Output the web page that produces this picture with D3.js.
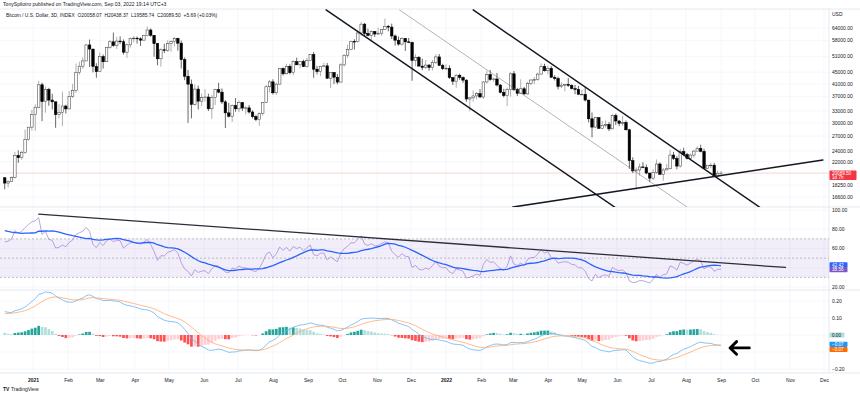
<!DOCTYPE html>
<html>
<head>
<meta charset="utf-8">
<script src="https://cdn.jsdelivr.net/npm/d3@7"></script>
<style>
  body { margin: 0; background: #fff; }
  svg { display: block; font-family: "Liberation Sans", Arial, sans-serif; }
</style>
</head>
<body>
<svg id="chart" width="860" height="395"></svg>
<script>
// BTCUSD 3D candles, Dec 7 2020 -> Sep 1 2022
var firstCandle = "2020-12-07";

// closes before the first visible candle, only used to seed RSI / MACD
var warmupCloses = [9540, 11020, 11110, 11070, 11750, 11710, 11390, 11770, 12290, 11880,
  11660, 11470, 11540, 11920, 10510, 10250, 10340, 10330, 10950, 11080,
  10530, 10750, 10700, 10620, 10680, 10670, 11300, 11430, 11320, 11750,
  12990, 13030, 13270, 13800, 14000, 15590, 15330, 16290, 15960, 17800,
  18680, 19150, 17150, 19700, 19210, 19360];

var closes = [
  18550,18800,19430,23140,22720,23730,26270,28990,32130,33990,
  40670,35570,39190,35990,35500,32070,32570,34320,33540,37000,
  38900,44880,47170,49200,55900,54090,47100,45140,50960,48880,
  54880,57330,55650,57650,57350,52770,55950,58800,59000,58700,
  58090,60200,62980,60370,56470,50050,53800,53560,56620,57480,
  58880,56700,49700,43540,40870,34770,39290,35680,36680,36880,
  33570,36690,39100,38350,35480,32500,31640,34430,33570,35300,
  33770,33820,32720,31530,30820,32290,35350,40030,41630,38150,
  40870,46360,44400,47100,44800,48900,47700,49000,46990,49300,
  51750,46060,45160,47110,47300,42850,44900,43200,41560,47670,
  51500,53950,57470,57400,61500,65990,61300,60350,62250,61000,
  61400,63300,64900,64470,60060,58050,56300,58900,57300,57000,
  49400,50600,47200,46700,47600,46700,48600,50800,47500,46300,
  46400,43100,41850,43900,43100,42200,36300,36650,37200,37900,
  36900,41600,44100,42400,42600,40600,38300,37300,39100,44400,
  39150,38000,39400,37800,41100,42250,42380,44300,47100,45500,
  46400,43200,42750,40100,40550,40800,40500,39450,39200,37700,
  37700,36000,31000,29000,31300,28700,29400,29650,28600,31800,
  30450,29900,30100,28400,22200,20450,20600,21100,21000,20100,
  19300,20200,21600,19900,20600,20800,23200,22600,21250,23850,
  23300,22600,23200,23950,24450,23900,20850,21400,21400,19550,
  20050,20089.5];

var highs = [
  19420,18950,19570,23770,24100,24000,28420,29000,33300,34800,
  41950,41350,40100,39700,37850,35500,34870,38500,34700,38700,
  40950,48200,48900,50600,56400,58350,54200,48300,52600,51800,
  54900,58100,61700,59600,59900,58400,56600,59300,60000,59800,
  59400,60500,64850,63800,57600,56800,54400,56400,58000,58000,
  59500,59200,57900,50600,45800,42400,40800,40400,37900,39300,
  37900,37500,39400,41300,39500,36000,35200,34750,36600,35900,
  35000,34300,34600,33200,32000,32600,35400,40600,42300,42500,
  41300,46500,46700,48100,47900,49400,50500,49300,49700,50400,
  51900,52900,47300,47300,48500,48400,45000,45000,44300,48300,
  51900,56000,57800,58500,62900,67000,66600,63700,62900,62400,
  64200,63300,69000,65600,66300,60800,59800,59400,59000,59100,
  57400,51900,51200,50100,49500,48000,49600,51900,52000,48100,
  47900,47500,43100,44300,44400,43500,42500,36800,38900,38400,
  39300,41900,45500,45800,43000,44700,40900,39400,39800,44900,
  45400,39700,42500,40000,41700,42400,43300,44800,48200,48100,
  47400,47200,43900,43400,41500,40800,42900,40800,40600,40300,
  39100,40000,36000,32600,31400,31300,30500,30600,30200,32200,
  32300,30700,31700,30600,28600,22800,21000,21700,21900,21500,
  20100,20700,22400,21900,20900,21600,24200,23800,23000,24400,
  24600,23600,23500,24200,24900,25200,24400,21400,21800,21800,
  20500,20438.37];

var lows = [
  17650,17910,18800,19280,21810,22350,23480,26000,28200,28130,
  33700,30420,32530,34400,33400,28850,31100,29240,32300,33450,
  36600,38100,44100,46200,49300,46900,44900,43000,45100,46300,
  48900,54300,55100,54100,56300,51800,50400,54700,57100,56500,
  55500,57900,59900,59700,50900,47500,47000,52400,53000,52900,
  55300,53400,46300,42200,30000,31100,34400,33400,34300,35600,
  33000,31000,34600,38000,34900,28800,31300,30200,32800,32700,
  33000,32100,32300,31100,30400,29300,31800,35200,38300,37600,
  37500,40800,43800,44200,44200,43900,47600,46400,46900,46700,
  49400,43000,44200,43600,46800,42600,39600,40900,40800,41500,
  47100,50400,53700,53900,57000,60200,59700,59900,58100,59600,
  60600,60100,63100,62300,58600,55600,55600,55600,53300,56700,
  42000,47200,47200,45700,46100,45500,45600,48000,47300,45700,
  45700,42600,40600,39700,42300,41300,35500,32900,35500,36200,
  36600,36300,41100,42000,41600,40100,38000,36800,34300,37000,
  38700,37200,38100,37600,37600,40500,40900,42000,44100,45200,
  44200,43000,42100,39200,39600,38600,40000,39200,37700,37600,
  37400,35600,30100,26700,28800,28700,28800,28900,28100,28500,
  29500,29200,29300,28200,20800,20100,17600,19700,20900,19900,
  18700,19000,20000,19900,18900,20600,20700,22300,20700,21000,
  23000,22400,22500,22700,23900,23700,20800,20800,20900,19550,
  19600,19585.74];

var priceTicks = [64000, 58000, 51000, 45000, 41000, 37000, 33000, 30000, 27000, 24000, 22000, 18250, 16600];
var rsiTicks = [100, 80, 60, 20];
var rsiGrid = [100, 80, 60, 40, 20];
var rsiBand = [70, 50, 30];
var macdTicks = [0.2, 0.1, -0.2];
var macdGrid = [0.2, 0.1, 0, -0.1, -0.2];

// last values printed on the right scale
var lastPrice = 20089.5, lastPriceText = "20089.50", countdownText = "1d 7h";
var rsiMaLast = 42.42, rsiLast = 38.56;
var histLast = 0.00, macdLast = -0.07, signalLast = -0.07;

// hand drawn lines: [date, value]
var channelLower = [["2021-09-17", 73900], ["2022-05-30", 15320]];
var channelMid = [["2021-11-21", 73900], ["2022-08-02", 15320]];
var channelUpper = [["2022-01-25", 73900], ["2022-10-05", 15320]];
var supportLine = [["2022-03-01", 15320], ["2022-11-30", 22300]];
var rsiTrend = [["2021-01-06", 95.8], ["2022-10-28", 40.3]];
var arrowLine = [["2022-09-26", -0.076], ["2022-09-09", -0.076]];

var headerText = "TonySpilotro published on TradingView.com, Sep 03, 2022 19:14 UTC+3";
var legendText = "Bitcoin / U.S. Dollar, 3D, INDEX  O20058.07  H20438.37  L19585.74  C20089.50  +5.69 (+0.03%)";

// ---- layout
var W = 860, H = 395;
var plotR = 829, top0 = 9, priceB = 207, rsiB = 290, macdB = 373;
var parse = d3.utcParse("%Y-%m-%d");
var svg = d3.select("#chart");

var x = d3.scaleUtc().domain([parse("2021-01-01"), parse("2022-12-01")]).range([33, 824]);
var yP = d3.scaleLog().domain([64000, 16600]).range([28, 197]);
var yR = d3.scaleLinear().domain([100, 20]).range([210, 287]);
var yM = d3.scaleLinear().domain([0.2, -0.2]).range([301, 369]);

// ---- candles
var prevClose = warmupCloses[warmupCloses.length - 1];
var candles = closes.map(function(c, i) {
  var o = i === 0 ? prevClose : closes[i - 1];
  return {
    date: d3.utcDay.offset(parse(firstCandle), 3 * i),
    o: o, c: c,
    h: Math.max(highs[i], o, c),
    l: Math.min(lows[i], o, c)
  };
});

// ---- indicators
var all = warmupCloses.concat(closes);
function ema(v, n) {
  var k = 2 / (n + 1), out = [], p;
  v.forEach(function(d, i) { p = i === 0 ? d : d * k + p * (1 - k); out.push(p); });
  return out;
}
function rsiCalc(v, n) {
  var out = [null], ag = 0, al = 0;
  for (var i = 1; i < v.length; i++) {
    var ch = v[i] - v[i - 1], g = Math.max(ch, 0), l = Math.max(-ch, 0);
    if (i <= n) { ag += g / n; al += l / n; }
    else { ag = (ag * (n - 1) + g) / n; al = (al * (n - 1) + l) / n; }
    out.push(i < n ? null : (al === 0 ? 100 : 100 - 100 / (1 + ag / al)));
  }
  return out;
}
var rsiAll = rsiCalc(all, 14);
var rsiMaAll = rsiAll.map(function(d, i) {
  if (i < 27) return null;
  return d3.mean(rsiAll.slice(i - 13, i + 1));
});
var logs = all.map(Math.log);
var e12 = ema(logs, 12), e26 = ema(logs, 26);
var macdAll = e12.map(function(d, i) { return d - e26[i]; });
var sigAll = ema(macdAll, 9);
var off = warmupCloses.length;
candles.forEach(function(d, i) {
  var j = i + off;
  d.rsi = rsiAll[j];
  d.rsiMa = rsiMaAll[j];
  d.macd = macdAll[j];
  d.sig = sigAll[j];
  d.hist = macdAll[j] - sigAll[j];
  d.prevHist = macdAll[j - 1] - sigAll[j - 1];
});

// ---- clips
var defs = svg.append("defs");
[["cp", top0, priceB], ["cr", priceB, rsiB], ["cm", rsiB, macdB]].forEach(function(c) {
  defs.append("clipPath").attr("id", c[0]).append("rect")
    .attr("x", 0).attr("y", c[1]).attr("width", plotR).attr("height", c[2] - c[1]);
});

// ---- grid
var grid = svg.append("g").attr("stroke", "#F0F3FA").attr("stroke-width", 0.7);
var months = d3.utcMonth.range(parse("2021-01-01"), parse("2022-12-02"));
grid.selectAll(".v").data(months).enter().append("line")
  .attr("x1", function(d) { return x(d); }).attr("x2", function(d) { return x(d); })
  .attr("y1", top0).attr("y2", macdB);
grid.selectAll(".hp").data(priceTicks).enter().append("line")
  .attr("x1", 0).attr("x2", plotR).attr("y1", function(d) { return yP(d); }).attr("y2", function(d) { return yP(d); });
grid.selectAll(".hr").data(rsiGrid).enter().append("line")
  .attr("x1", 0).attr("x2", plotR).attr("y1", function(d) { return yR(d); }).attr("y2", function(d) { return yR(d); });
grid.selectAll(".hm").data(macdGrid).enter().append("line")
  .attr("x1", 0).attr("x2", plotR).attr("y1", function(d) { return yM(d); }).attr("y2", function(d) { return yM(d); });

// pane separators
var sep = svg.append("g").attr("stroke", "#E0E3EB").attr("stroke-width", 0.8);
[top0, priceB, rsiB, macdB].forEach(function(y) {
  sep.append("line").attr("x1", 0).attr("x2", W).attr("y1", y).attr("y2", y);
});
sep.append("line").attr("x1", plotR).attr("x2", plotR).attr("y1", top0).attr("y2", macdB);

// ---- price pane
var pg = svg.append("g").attr("clip-path", "url(#cp)");
pg.append("line").attr("x1", 0).attr("x2", plotR)
  .attr("y1", yP(lastPrice)).attr("y2", yP(lastPrice))
  .attr("stroke", "#F7C4C9").attr("stroke-width", 0.7);

var bw = 2.5;
var cg = pg.selectAll(".candle").data(candles).enter().append("g");
cg.append("line")
  .attr("x1", function(d) { return x(d.date); }).attr("x2", function(d) { return x(d.date); })
  .attr("y1", function(d) { return yP(d.h); }).attr("y2", function(d) { return yP(d.l); })
  .attr("stroke", function(d) { return d.c >= d.o ? "#7a7a7a" : "#000"; })
  .attr("stroke-width", 0.6);
cg.append("rect")
  .attr("x", function(d) { return x(d.date) - bw / 2; })
  .attr("width", bw)
  .attr("y", function(d) { return yP(Math.max(d.o, d.c)); })
  .attr("height", function(d) { return Math.max(0.6, Math.abs(yP(d.o) - yP(d.c))); })
  .attr("fill", function(d) { return d.c >= d.o ? "#fff" : "#000"; })
  .attr("stroke", function(d) { return d.c >= d.o ? "#444" : "#000"; })
  .attr("stroke-width", 0.55);

function seg(g, pts, ys, w, col) {
  g.append("line")
    .attr("x1", x(parse(pts[0][0]))).attr("y1", ys(pts[0][1]))
    .attr("x2", x(parse(pts[1][0]))).attr("y2", ys(pts[1][1]))
    .attr("stroke", col).attr("stroke-width", w).attr("stroke-linecap", "round");
}
seg(pg, channelLower, yP, 1.5, "#131722");
seg(pg, channelMid, yP, 0.5, "#6b6b6b");
seg(pg, channelUpper, yP, 1.5, "#131722");
seg(pg, supportLine, yP, 1.5, "#131722");

// ---- RSI pane
var rg = svg.append("g").attr("clip-path", "url(#cr)");
rg.append("rect").attr("x", 0).attr("width", plotR)
  .attr("y", yR(70)).attr("height", yR(30) - yR(70))
  .attr("fill", "#7E57C2").attr("fill-opacity", 0.1);
rg.selectAll(".band").data(rsiBand).enter().append("line")
  .attr("x1", 0).attr("x2", plotR)
  .attr("y1", function(d) { return yR(d); }).attr("y2", function(d) { return yR(d); })
  .attr("stroke", "#9598A1").attr("stroke-width", 0.6).attr("stroke-dasharray", "2,2");
rg.append("path").datum(candles)
  .attr("d", d3.line().x(function(d) { return x(d.date); }).y(function(d) { return yR(d.rsi); }))
  .attr("fill", "none").attr("stroke", "#9C7FD4").attr("stroke-width", 0.7);
rg.append("path").datum(candles)
  .attr("d", d3.line().x(function(d) { return x(d.date); }).y(function(d) { return yR(d.rsiMa); }))
  .attr("fill", "none").attr("stroke", "#2962FF").attr("stroke-width", 1.3);
seg(rg, rsiTrend, yR, 1.3, "#2a2e39");

// ---- MACD pane
var mg = svg.append("g").attr("clip-path", "url(#cm)");
function histColor(d) {
  if (d.hist >= 0) return d.prevHist < d.hist ? "#26A69A" : "#B2DFDB";
  return d.prevHist < d.hist ? "#FFCDD2" : "#FF5252";
}
mg.selectAll(".hb").data(candles).enter().append("rect")
  .attr("x", function(d) { return x(d.date) - 1.35; })
  .attr("width", 2.7)
  .attr("y", function(d) { return Math.min(yM(0), yM(d.hist)); })
  .attr("height", function(d) { return Math.abs(yM(d.hist) - yM(0)); })
  .attr("fill", histColor);
mg.append("path").datum(candles)
  .attr("d", d3.line().x(function(d) { return x(d.date); }).y(function(d) { return yM(d.macd); }))
  .attr("fill", "none").attr("stroke", "#64B5F6").attr("stroke-width", 0.8);
mg.append("path").datum(candles)
  .attr("d", d3.line().x(function(d) { return x(d.date); }).y(function(d) { return yM(d.sig); }))
  .attr("fill", "none").attr("stroke", "#FFA96B").attr("stroke-width", 0.8);

// arrow annotation
var ax1 = x(parse(arrowLine[0][0])), ax2 = x(parse(arrowLine[1][0])), ay = yM(arrowLine[0][1]);
mg.append("path")
  .attr("d", "M" + ax1 + "," + ay + "L" + ax2 + "," + ay +
    "M" + (ax2 + 6.5) + "," + (ay - 6.3) + "L" + ax2 + "," + ay + "L" + (ax2 + 6.5) + "," + (ay + 6.3))
  .attr("fill", "none").attr("stroke", "#000").attr("stroke-width", 2.9)
  .attr("stroke-linecap", "round").attr("stroke-linejoin", "round");

// ---- axes
var fs = 5;
var pAxis = svg.append("g").attr("font-size", fs).attr("fill", "#131722");
pAxis.append("text").attr("x", 832).attr("y", 15.5).text("USD");
pAxis.selectAll(".pt").data(priceTicks).enter().append("text")
  .attr("x", 832).attr("y", function(d) { return yP(d) + 1.8; })
  .text(function(d) { return d3.format(".2f")(d); });
pAxis.selectAll(".rt").data(rsiTicks).enter().append("text")
  .attr("x", 832).attr("y", function(d) { return yR(d) + 1.8; })
  .text(function(d) { return d3.format(".2f")(d); });
pAxis.selectAll(".mt").data(macdTicks).enter().append("text")
  .attr("x", 832).attr("y", function(d) { return yM(d) + 1.8; })
  .text(function(d) { return d3.format(".2f")(d).replace("-", "\u2212"); });

function tag(y, h, bg, col, lines, wd) {
  var g = svg.append("g");
  g.append("rect").attr("x", 829.5).attr("y", y - h / 2).attr("width", wd).attr("height", h)
    .attr("rx", 0.8).attr("fill", bg);
  lines.forEach(function(t, i) {
    g.append("text").attr("x", 832).attr("y", y - h / 2 + 4.2 + i * 4.6)
      .attr("font-size", 4.6).attr("fill", col).text(t);
  });
}
tag(yP(lastPrice) + 2.2, 9.6, "#F23645", "#fff", [lastPriceText, countdownText], 27);
tag(yR(rsiMaLast) - 0.5, 5.2, "#2962FF", "#fff", [d3.format(".2f")(rsiMaLast)], 18);
tag(yR(rsiLast) + 0.5, 5.2, "#7E57C2", "#fff", [d3.format(".2f")(rsiLast)], 18);
tag(yM(histLast), 5.2, "#B2DFDB", "#131722", [d3.format(".2f")(histLast)], 15);
tag(yM(macdLast) - 2.6, 5.2, "#2196F3", "#fff", [d3.format(".2f")(macdLast).replace("-", "\u2212")], 18);
tag(yM(signalLast) + 2.6, 5.2, "#FF6D00", "#fff", [d3.format(".2f")(signalLast).replace("-", "\u2212")], 18);

var tAxis = svg.append("g").attr("transform", "translate(0," + (macdB + 2) + ")")
  .call(d3.axisBottom(x).tickValues(months).tickSize(0)
    .tickFormat(function(d) { return d.getUTCMonth() === 0 ? d3.utcFormat("%Y")(d) : d3.utcFormat("%b")(d); }));
tAxis.select(".domain").remove();
tAxis.selectAll("text").attr("font-size", fs).attr("fill", "#131722")
  .attr("font-family", "Liberation Sans, Arial, sans-serif")
  .attr("font-weight", function(d) { return d.getUTCMonth() === 0 ? "bold" : null; });

// ---- header
svg.append("text").attr("x", 3).attr("y", 6).attr("font-size", 5.1).attr("fill", "#131722").text(headerText);
svg.append("text").attr("x", 6).attr("y", 16.5).attr("font-size", 4.9).attr("fill", "#131722")
  .attr("xml:space", "preserve").style("white-space", "pre").text(legendText);

// TradingView mark
var tv = svg.append("g").attr("fill", "#131722");
tv.append("text").attr("x", 3).attr("y", 391).attr("font-size", 5).attr("font-weight", "bold").text("TV");
tv.append("text").attr("x", 11).attr("y", 391).attr("font-size", 5).text("TradingView");
</script>
</body>
</html>
